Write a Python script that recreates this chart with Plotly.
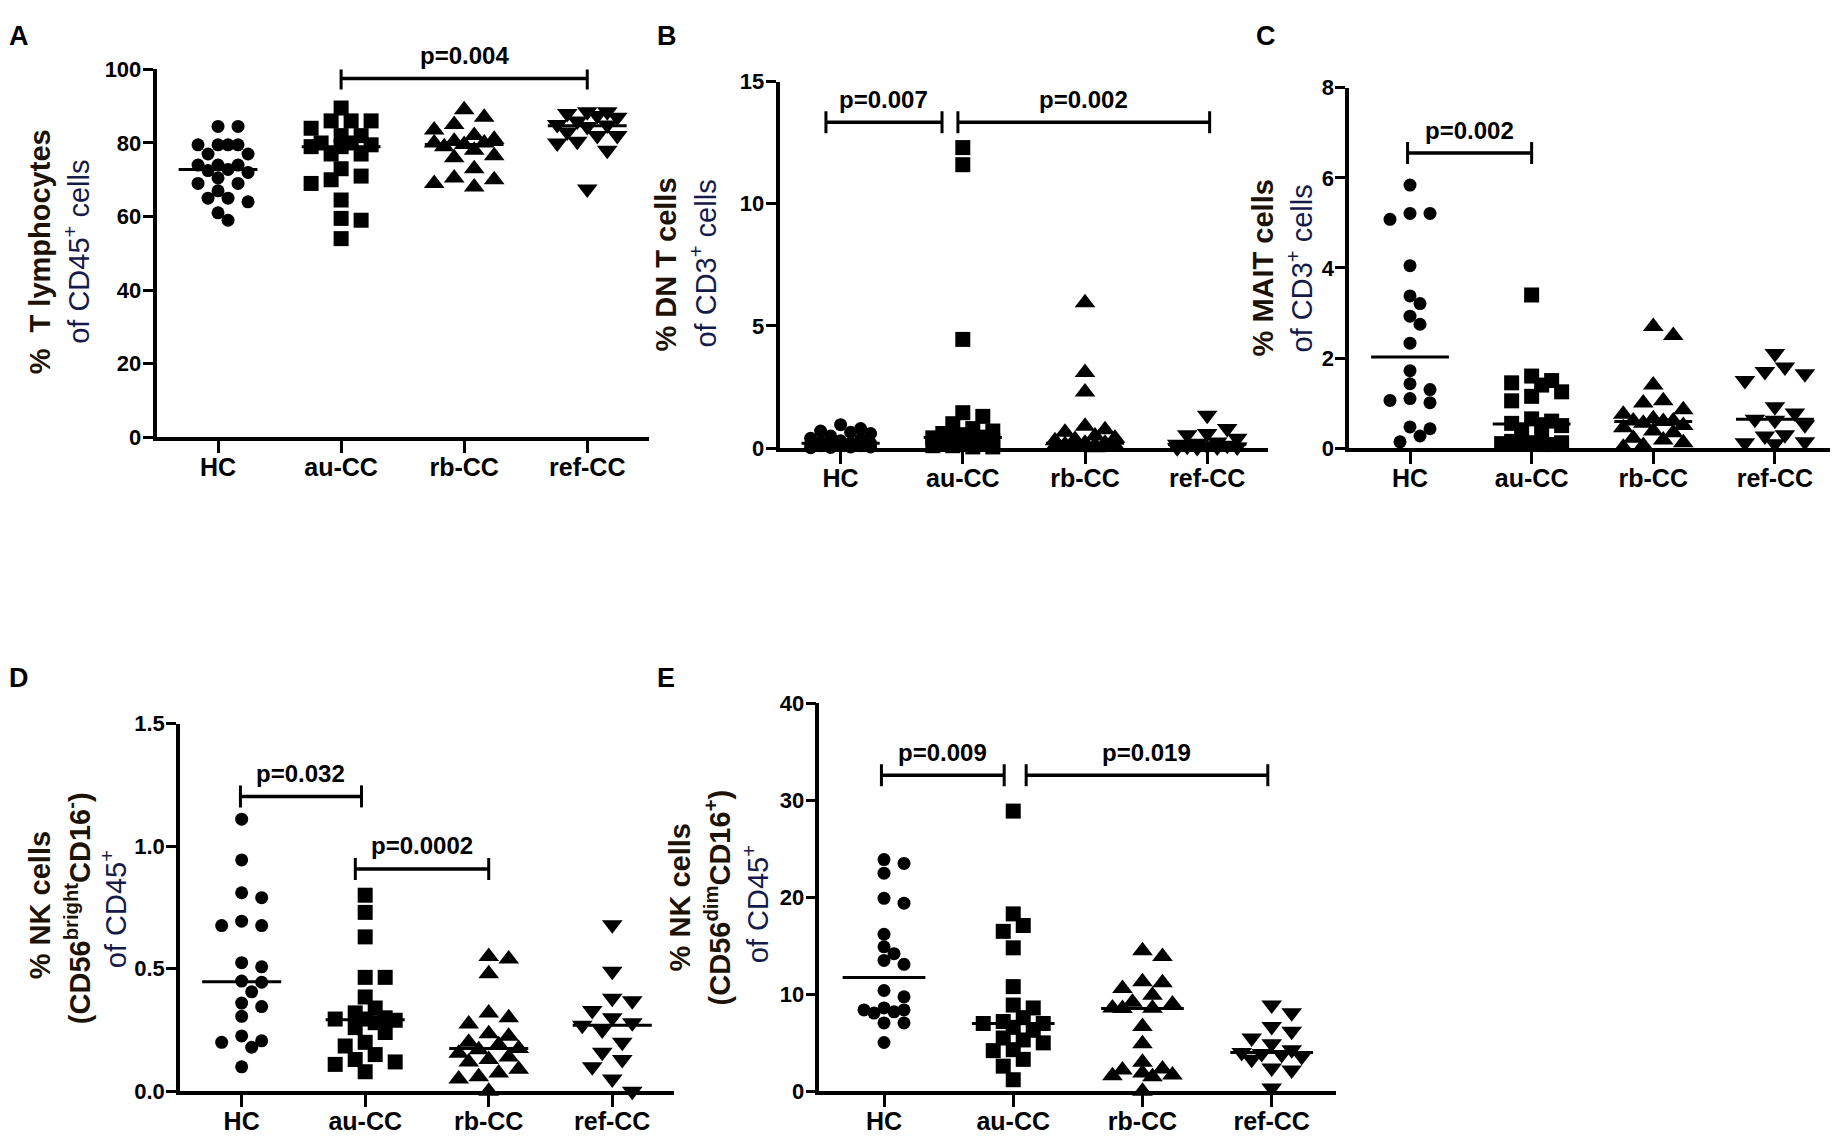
import numpy as np
import plotly.graph_objects as go

W, H = 1838, 1144
OFF = 8  # the page body adds an 8 px margin, so everything is drawn 8 px up/left

groups = ["HC", "au-CC", "rb-CC", "ref-CC"]
symbols = ["circle", "square", "triangle-up", "triangle-down"]
msize = [13, 15, 18, 18]

# A  % T lymphocytes of CD45+ cells
a_hc = [84.5, 84.5, 79.5, 79.5, 79.5, 79.5, 77, 77, 74, 74, 74, 72.8, 72.5, 72,
        70.5, 69, 69, 67, 65, 65, 64, 61, 59]
a_au = [89.5, 86, 86, 86, 84, 82, 82, 80, 80, 79.5, 79, 79, 77, 77, 73, 71, 70,
        69, 64.5, 59.5, 59, 54]
a_rb = [89, 87, 85, 83.5, 82, 81, 80.5, 80, 80, 79.6, 79, 78, 76.5, 76, 73, 70.5,
        70, 69, 68]
a_ref = [88.5, 88.5, 88, 87.5, 87, 86, 85, 84.9, 84.5, 83, 82, 82, 80.5, 80, 78, 67.5]

# B  % DN T cells of CD3+ cells
b_hc = [0.96, 0.8, 0.7, 0.65, 0.6, 0.5, 0.4, 0.35, 0.3, 0.25, 0.2, 0.2, 0.15, 0.15,
        0.1, 0.1, 0.1, 0.05, 0.05, 0.03, 0.02]
b_au = [12.3, 11.6, 4.45, 1.45, 1.3, 1.0, 0.8, 0.7, 0.6, 0.55, 0.45, 0.42, 0.4, 0.35,
        0.3, 0.25, 0.2, 0.15, 0.1, 0.1, 0.05, 0.05]
b_rb = [5.95, 3.1, 2.3, 0.9, 0.75, 0.65, 0.5, 0.4, 0.35, 0.3, 0.2, 0.2, 0.15, 0.12,
        0.1, 0.1, 0.08, 0.05, 0.05, 0.03, 0.02]
b_ref = [1.35, 0.8, 0.6, 0.55, 0.4, 0.25, 0.2, 0.16, 0.12, 0.1, 0.08, 0.05, 0.05, 0.03, 0.02]

# C  % MAIT cells of CD3+ cells
c_hc = [5.84, 5.21, 5.21, 5.08, 4.05, 3.38, 3.21, 2.93, 2.75, 2.33, 1.72, 1.43, 1.3,
        1.1, 1.06, 1.01, 0.47, 0.43, 0.27, 0.14]
c_au = [3.4, 1.6, 1.5, 1.45, 1.4, 1.25, 1.15, 1.05, 0.65, 0.6, 0.55, 0.52, 0.5, 0.4,
        0.2, 0.15, 0.12, 0.12, 0.1, 0.1, 0.08, 0.08]
c_rb = [2.7, 2.5, 1.4, 1.05, 1.0, 0.85, 0.75, 0.65, 0.6, 0.6, 0.59, 0.55, 0.5, 0.45,
        0.38, 0.34, 0.22, 0.18, 0.12, 0.06, 0.02]
c_ref = [2.1, 1.8, 1.7, 1.65, 1.5, 0.92, 0.78, 0.64, 0.62, 0.52, 0.3, 0.27, 0.14, 0.12, 0.1]

# D  % NK cells (CD56bright CD16-) of CD45+
d_hc = [1.11, 0.944, 0.81, 0.79, 0.694, 0.676, 0.676, 0.525, 0.508, 0.45, 0.445, 0.406,
        0.36, 0.346, 0.306, 0.226, 0.206, 0.2, 0.18, 0.1]
d_au = [0.8, 0.73, 0.63, 0.465, 0.465, 0.385, 0.34, 0.32, 0.3, 0.295, 0.295, 0.29, 0.28,
        0.26, 0.24, 0.2, 0.185, 0.15, 0.13, 0.12, 0.11, 0.08]
d_rb = [0.55, 0.54, 0.48, 0.32, 0.3, 0.275, 0.235, 0.225, 0.2, 0.19, 0.175, 0.17, 0.155,
        0.14, 0.13, 0.12, 0.09, 0.075, 0.06, 0.05, 0.0]
d_ref = [0.68, 0.49, 0.38, 0.37, 0.33, 0.3, 0.28, 0.27, 0.25, 0.2, 0.16, 0.13, 0.1, 0.05, 0.0]

# E  % NK cells (CD56dim CD16+) of CD45+
e_hc = [23.9, 23.5, 22.5, 19.9, 19.4, 16.2, 14.9, 14.2, 13.5, 13.1, 10.4, 9.75, 8.6,
        8.4, 8.4, 8.2, 8.07, 7.06, 7.06, 5.04]
e_au = [28.9, 18.3, 17.1, 16.5, 14.8, 10.8, 8.9, 8.6, 7.6, 7.2, 7.0, 7.0, 6.6, 6.3,
        5.5, 5.3, 5.0, 4.3, 4.2, 3.3, 2.6, 1.2]
e_rb = [14.5, 13.9, 11.3, 11.2, 10.6, 9.9, 9.2, 9.0, 8.6, 8.57, 8.55, 6.7, 4.9, 3.0,
        2.3, 2.2, 1.9, 1.7, 1.6, 1.5, 0.0]
e_ref = [8.9, 8.1, 6.7, 6.2, 5.5, 4.9, 4.3, 4.0, 3.9, 3.8, 3.6, 3.3, 2.4, 2.2, 0.35]

BOLD_C = "#1d1206"
NORM_C = "#161a48"
NARROW = "Liberation Sans Narrow, Arial Narrow, Liberation Sans, Arial"
SANS = "Liberation Sans, Arial, sans-serif"

# axis boxes in pixels: x0, x1, y_top, y_bottom
panels = [
    dict(letter="A", data=[a_hc, a_au, a_rb, a_ref], box=(156.5, 648.8, 58.5, 434.6),
         ymax=100, yticks=[0, 20, 40, 60, 80, 100], fmt="{:g}", letter_xy=(0, 7),
         titles=[("%&nbsp; T lymphocytes", 39.5, 245, True),
                 ("of CD45<sup>+</sup> cells", 77, 245, False)],
         brackets=[(1.0, 3.0, 97.5, "p=0.004")]),
    dict(letter="B", data=[b_hc, b_au, b_rb, b_ref], box=(779.5, 1268.3, 71, 445.7),
         ymax=15, yticks=[0, 5, 10, 15], fmt="{:g}", letter_xy=(656, 7),
         titles=[("% DN T cells", 666, 258, True),
                 ("of CD3<sup>+</sup> cells", 703, 257, False)],
         brackets=[(-0.12, 0.83, 13.34, "p=0.007"), (0.96, 3.02, 13.34, "p=0.002")]),
    dict(letter="C", data=[c_hc, c_au, c_rb, c_ref], box=(1349.2, 1835.7, 77.3, 445.7),
         ymax=8, yticks=[0, 2, 4, 6, 8], fmt="{:g}", letter_xy=(1255, 7),
         titles=[("% MAIT cells", 1263, 262, True),
                 ("of CD3<sup>+</sup> cells", 1300, 262, False)],
         brackets=[(-0.02, 1.0, 6.55, "p=0.002")]),
    dict(letter="D", data=[d_hc, d_au, d_rb, d_ref], box=(179.9, 674.0, 727.3, 1103.3),
         ymax=1.5, yticks=[0, 0.5, 1.0, 1.5], fmt="{:.1f}", letter_xy=(0, 664),
         titles=[("% NK cells", 40, 913, True),
                 ("(CD56<sup>bright</sup>CD16<sup>-</sup>)", 78, 916, True),
                 ("of CD45<sup>+</sup>", 114, 917, False)],
         brackets=[(-0.01, 0.97, 1.203, "p=0.032"), (0.92, 2.0, 0.907, "p=0.0002")]),
    dict(letter="E", data=[e_hc, e_au, e_rb, e_ref], box=(819.4, 1336.3, 706.7, 1103.3),
         ymax=40, yticks=[0, 10, 20, 30, 40], fmt="{:g}", letter_xy=(656, 664),
         titles=[("% NK cells", 680, 905, True),
                 ("(CD56<sup>dim</sup>CD16<sup>+</sup>)", 718, 905, True),
                 ("of CD45<sup>+</sup>", 756, 912, False)],
         brackets=[(-0.02, 0.93, 32.6, "p=0.009"), (1.1, 2.97, 32.6, "p=0.019")]),
]


def swarm(vals, px_y, px_x, step=10.0, dmin=12.0, maxk=3):
    # column scatter: spread points sideways when they would overlap
    vals = np.asarray(vals, float)
    order = np.argsort(-vals, kind="stable")
    offs = np.zeros(len(vals))
    placed = []
    cands = [0]
    for k in range(1, maxk + 1):
        cands += [k, -k]
    for i in order:
        y = vals[i] * px_y
        best, best_d = 0, -1
        for c in cands:
            x = c * step
            d = min([np.hypot(x - px, y - py) for px, py in placed] or [1e9])
            if d >= dmin:
                best = c
                break
            if d > best_d:
                best, best_d = c, d
        placed.append((best * step, y))
        offs[i] = best * step / px_x
    return offs


def px2paper(x, y):
    return max(x - OFF, 0) / W, 1 - max(y - OFF, 0) / H


fig = go.Figure()
layout = dict(width=W, height=H, margin=dict(l=0, r=0, t=0, b=0),
              paper_bgcolor="white", plot_bgcolor="white", showlegend=False)
shapes, annotations = [], []

for k, p in enumerate(panels):
    n = "" if k == 0 else str(k + 1)
    xr, yr = "x" + n, "y" + n
    x0, x1, yt, yb = p["box"]
    px_x = (x1 - x0) / 4.0
    px_y = (yb - yt) / p["ymax"]
    dx0, dy0 = px2paper(x0, yb)
    dx1, dy1 = px2paper(x1, yt)

    layout["xaxis" + n] = dict(
        domain=[dx0, dx1], range=[-0.5, 3.5], anchor=yr,
        tickvals=[0, 1, 2, 3], ticktext=groups, showline=True, linecolor="black",
        linewidth=3.5, ticks="outside", ticklen=12, tickwidth=3, tickcolor="black",
        ticklabelstandoff=-7, showgrid=False, zeroline=False,
        tickfont=dict(family=NARROW, size=25, color="black", weight="bold"))
    layout["yaxis" + n] = dict(
        domain=[dy0, dy1], range=[0, p["ymax"]], anchor=xr,
        tickvals=p["yticks"], ticktext=[p["fmt"].format(v) for v in p["yticks"]],
        showline=True, linecolor="black", linewidth=3.5, ticks="outside", ticklen=10,
        tickwidth=3, tickcolor="black", ticklabelstandoff=-3, showgrid=False,
        zeroline=False,
        tickfont=dict(family=NARROW, size=22, color="black", weight="bold"))

    for gi, vals in enumerate(p["data"]):
        offs = swarm(vals, px_y, px_x, dmin=msize[gi] - 1)
        fig.add_trace(go.Scatter(
            x=gi + offs, y=vals, mode="markers", xaxis=xr, yaxis=yr, cliponaxis=False,
            marker=dict(symbol=symbols[gi], size=msize[gi], color="black",
                        line=dict(width=0))))
        med = float(np.median(vals))
        fig.add_trace(go.Scatter(
            x=[gi - 0.32, gi + 0.32], y=[med, med], mode="lines", xaxis=xr, yaxis=yr,
            cliponaxis=False, line=dict(color="black", width=3)))

    for bx0, bx1, by, txt in p["brackets"]:
        shapes.append(dict(type="line", xref=xr, yref=yr, x0=bx0, x1=bx1, y0=by, y1=by,
                           line=dict(color="black", width=3.5)))
        for ex in (bx0, bx1):
            shapes.append(dict(type="line", xref=xr, yref=yr, x0=ex, x1=ex,
                               ysizemode="pixel", yanchor=by, y0=-11, y1=11,
                               line=dict(color="black", width=3)))
        annotations.append(dict(x=(bx0 + bx1) / 2, y=by, xref=xr, yref=yr, yshift=23,
                                text=txt, showarrow=False, yanchor="middle",
                                font=dict(family=NARROW, size=24, color="black",
                                          weight="bold")))

    # panel letter, anchored at its top-left corner
    lx, ly = px2paper(*p["letter_xy"])
    annotations.append(dict(x=lx, y=ly, xref="paper", yref="paper",
                            text="<b>%s</b>" % p["letter"], showarrow=False,
                            xanchor="left", yanchor="top", borderpad=0,
                            font=dict(family=SANS, size=27, color="black")))

    for txt, tx, ty, bold in p["titles"]:
        ax, ay = px2paper(tx, ty)
        annotations.append(dict(
            x=ax, y=ay, xref="paper", yref="paper", text=txt,
            showarrow=False, textangle=-90, xanchor="center", yanchor="middle",
            font=dict(family=SANS, size=29, color=BOLD_C if bold else NORM_C,
                      weight="bold" if bold else "normal")))

layout["shapes"] = shapes
layout["annotations"] = annotations
fig.update_layout(**layout)
fig.write_html("out.html")
